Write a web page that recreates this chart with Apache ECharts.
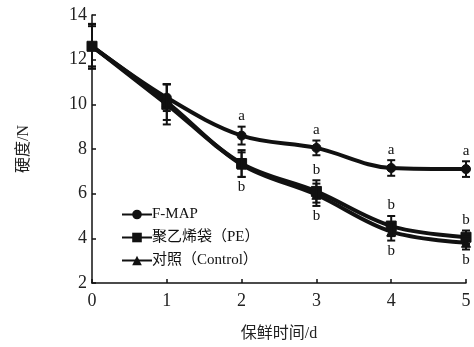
<!DOCTYPE html>
<html>
<head>
<meta charset="utf-8">
<script src="https://cdn.jsdelivr.net/npm/echarts@6/dist/echarts.min.js"></script>
<style>
  html, body { margin: 0; padding: 0; background: #fff; }
  #chart { width: 474px; height: 347px; }
</style>
</head>
<body>
<div id="chart"></div>
<script>
// Storage time (days)
const days = [0, 1, 2, 3, 4, 5];

// Firmness (N), mean values
const fmap    = [12.6, 10.3, 8.6, 8.05, 7.15, 7.1];
const pe      = [12.6, 10.0, 7.35, 6.1, 4.55, 4.05];
const control = [12.6, 10.1, 7.3, 5.95, 4.3, 3.8];

// Standard deviations
const fmapErr    = [1.0, 0.6, 0.4, 0.33, 0.35, 0.35];
const peErr      = [1.0, 0.9, 0.6, 0.5, 0.45, 0.3];
const controlErr = [0.9, 0.8, 0.55, 0.5, 0.4, 0.3];

// Significance letters
const fmapSig    = ['', '', 'a', 'a', 'a', 'a'];
const peSig      = ['', '', '', 'b', 'b', 'b'];   // above the bar
const controlSig = ['', '', 'b', 'b', 'b', 'b'];  // below the bar

const seriesNames = ['F-MAP', '聚乙烯袋（PE）', '对照（Control）'];
const yTicks = [2, 4, 6, 8, 10, 12, 14];

const serif = '"Liberation Serif", "Noto Sans CJK SC", serif';
const ink = '#111';

function pairs(vals) { return days.map((d, i) => [d, vals[i]]); }

function errorBars(vals, errs) {
  return {
    type: 'custom',
    silent: true,
    z: 3,
    data: days.map((d, i) => [d, vals[i] - errs[i], vals[i] + errs[i]]),
    renderItem: function (params, api) {
      const x = api.value(0);
      const lo = api.coord([x, api.value(1)]);
      const hi = api.coord([x, api.value(2)]);
      const w = 4;
      const style = { stroke: ink, lineWidth: 2 };
      return {
        type: 'group',
        children: [
          { type: 'line', shape: { x1: lo[0], y1: lo[1], x2: hi[0], y2: hi[1] }, style: style },
          { type: 'line', shape: { x1: lo[0] - w, y1: lo[1], x2: lo[0] + w, y2: lo[1] }, style: style },
          { type: 'line', shape: { x1: hi[0] - w, y1: hi[1], x2: hi[0] + w, y2: hi[1] }, style: style }
        ]
      };
    }
  };
}

function letters(vals, errs, sig, below) {
  return {
    type: 'custom',
    silent: true,
    z: 4,
    data: days.map((d, i) => [d, below ? vals[i] - errs[i] : vals[i] + errs[i], i]),
    renderItem: function (params, api) {
      const i = api.value(2);
      const t = sig[i];
      if (!t) return null;
      const p = api.coord([api.value(0), api.value(1)]);
      return {
        type: 'text',
        style: {
          text: t,
          x: p[0],
          y: below ? p[1] + 3 : p[1] - 3,
          align: 'center',
          verticalAlign: below ? 'top' : 'bottom',
          font: '15px ' + serif,
          fill: ink
        }
      };
    }
  };
}

function lineSeries(name, vals, symbol, size) {
  return {
    name: name,
    type: 'line',
    smooth: 0.35,
    data: pairs(vals),
    symbol: symbol,
    symbolSize: size,
    z: 2,
    lineStyle: { color: ink, width: 4 },
    itemStyle: { color: ink, borderColor: ink },
    emphasis: { disabled: true }
  };
}

const chart = echarts.init(document.getElementById('chart'), null, { renderer: 'canvas' });

chart.setOption({
  animation: false,
  backgroundColor: '#fff',
  grid: { left: 92, right: 8, top: 15, bottom: 62 },
  legend: {
    orient: 'vertical',
    left: 116,
    top: 202,
    itemWidth: 30,
    itemHeight: 12,
    itemGap: 8,
    selectedMode: false,
    textStyle: { fontFamily: serif, fontSize: 15, color: ink, padding: [0, 0, 0, -5] },
    data: seriesNames
  },
  xAxis: {
    type: 'value',
    min: 0, max: 5, interval: 1,
    name: '保鲜时间/d',
    nameLocation: 'middle',
    nameGap: 43,
    nameTextStyle: { fontFamily: serif, fontSize: 16, color: '#222' },
    axisLine: { lineStyle: { color: ink, width: 1.5 } },
    axisTick: { inside: true, length: 4, lineStyle: { color: ink, width: 1.5 } },
    axisLabel: { fontFamily: serif, fontSize: 18, color: '#222', margin: 9 },
    splitLine: { show: false }
  },
  yAxis: {
    type: 'value',
    min: yTicks[0], max: yTicks[yTicks.length - 1], interval: 2,
    name: '硬度/N',
    nameLocation: 'middle',
    nameGap: 60,
    nameRotate: 90,
    nameTextStyle: { fontFamily: serif, fontSize: 16, color: '#222' },
    axisLine: { show: true, lineStyle: { color: ink, width: 1.5 } },
    axisTick: { show: true, inside: true, length: 4, lineStyle: { color: ink, width: 1.5 } },
    axisLabel: { fontFamily: serif, fontSize: 18, color: '#222', margin: 5 },
    splitLine: { show: false }
  },
  series: [
    errorBars(pe, peErr),
    errorBars(control, controlErr),
    errorBars(fmap, fmapErr),
    lineSeries(seriesNames[0], fmap, 'circle', 9),
    lineSeries(seriesNames[1], pe, 'rect', 10),
    lineSeries(seriesNames[2], control, 'triangle', 9),
    letters(fmap, fmapErr, fmapSig, false),
    letters(pe, peErr, peSig, false),
    letters(control, controlErr, controlSig, true)
  ]
});
</script>
</body>
</html>
